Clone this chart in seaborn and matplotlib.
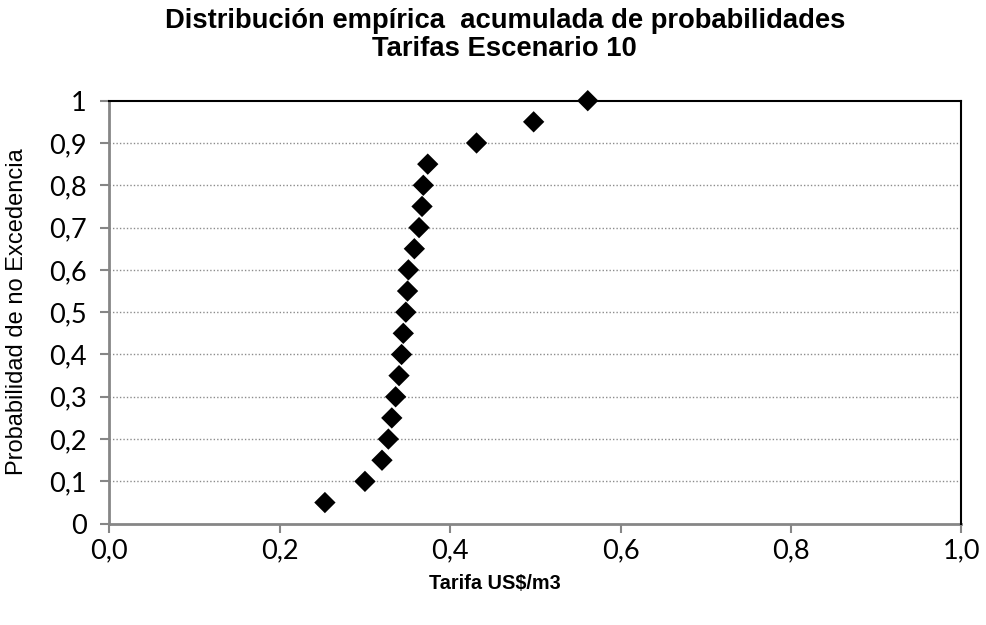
import matplotlib.pyplot as plt
import numpy as np
import pandas as pd
import seaborn as sns

# datos
tarifa = [0.253, 0.300, 0.320, 0.3275, 0.3315, 0.336, 0.340, 0.343, 0.345, 0.348,
          0.350, 0.351, 0.358, 0.3635, 0.367, 0.3685, 0.3737, 0.431, 0.498, 0.5615]
probabilidad = [0.05, 0.10, 0.15, 0.20, 0.25, 0.30, 0.35, 0.40, 0.45, 0.50,
                0.55, 0.60, 0.65, 0.70, 0.75, 0.80, 0.85, 0.90, 0.95, 1.00]
x_ticks = [0.0, 0.2, 0.4, 0.6, 0.8, 1.0]
x_tick_labels = ["0,0", "0,2", "0,4", "0,6", "0,8", "1,0"]
y_ticks = [0.0, 0.1, 0.2, 0.3, 0.4, 0.5, 0.6, 0.7, 0.8, 0.9, 1.0]
y_tick_labels = ["0", "0,1", "0,2", "0,3", "0,4", "0,5", "0,6", "0,7", "0,8", "0,9", "1"]

df = pd.DataFrame({"tarifa": tarifa, "prob": probabilidad})

sns.set_style("white")
plt.rcParams["font.family"] = ["Liberation Sans", "DejaVu Sans"]
plt.rcParams["text.color"] = "black"

fig = plt.figure(figsize=(9.86, 6.25), dpi=100)
ax = fig.add_axes([0.1109, 0.1621, 0.975 - 0.1109, 0.8389 - 0.1621])

# líneas de cuadrícula punteadas
for yv in y_ticks[1:-1]:
    ax.axhline(yv, color="#8c8c8c", linestyle=(0, (1, 1.5)), linewidth=1.0, zorder=1)

sns.scatterplot(data=df, x="tarifa", y="prob", marker="D", s=118, color="black",
                edgecolor="none", ax=ax, zorder=3, clip_on=False)

ax.set_xlim(0, 1)
ax.set_ylim(0, 1)
ax.set_xticks(x_ticks)
ax.set_xticklabels(x_tick_labels, fontfamily="Lato", fontsize=19.5)
ax.set_yticks(y_ticks)
ax.set_yticklabels(y_tick_labels, fontfamily="Lato", fontsize=19.5)
ax.tick_params(axis="both", direction="out", length=6.5, width=1.5, color="#868686",
               labelcolor="black", left=True, bottom=True)
ax.tick_params(axis="y", pad=10)
ax.tick_params(axis="x", pad=4)

for lado in ["left", "bottom"]:
    ax.spines[lado].set_color("#868686")
    ax.spines[lado].set_linewidth(2)
    ax.spines[lado].set_zorder(2)
for lado in ["top", "right"]:
    ax.spines[lado].set_color("black")
    ax.spines[lado].set_linewidth(1.5)

ax.set_xlabel("")
ax.set_ylabel("")
fig.text(0.017, 0.502, "Probabilidad de no Excedencia", rotation=90, ha="center",
         va="center", fontsize=17)
fig.text(0.502, 0.067, "Tarifa US$/m3", ha="center", va="center", fontsize=14.3,
         fontweight="bold")
fig.text(0.512, 0.966, "Distribución empírica  acumulada de probabilidades",
         ha="center", va="center", fontsize=19.7, fontweight="bold")
fig.text(0.512, 0.922, "Tarifas Escenario 10",
         ha="center", va="center", fontsize=19.7, fontweight="bold")

fig.savefig("out.png", dpi=100)
